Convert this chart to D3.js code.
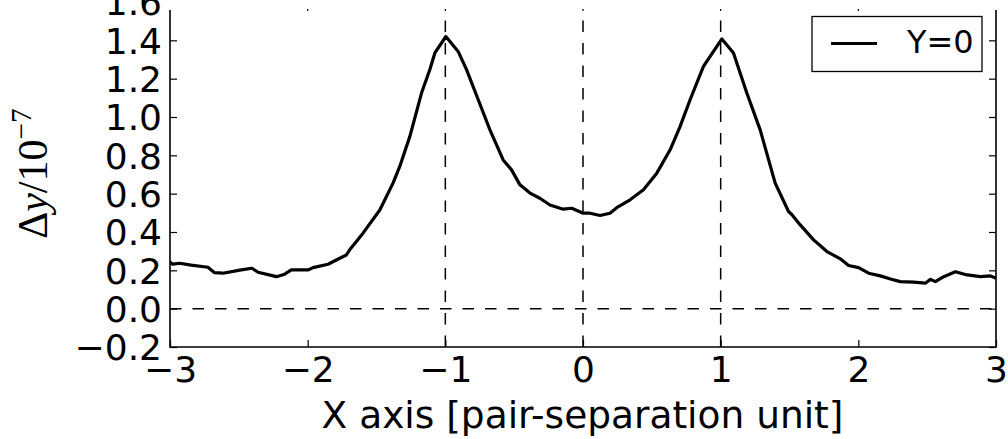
<!DOCTYPE html>
<html><head><meta charset="utf-8">
<script src="https://cdn.jsdelivr.net/npm/d3@7"></script>
<style>html,body{margin:0;padding:0;background:#fff;overflow:hidden}</style>
</head><body>
<svg id="c" width="1008" height="439"></svg>
<script>
const xValues = [-3.004,-2.98,-2.93,-2.846,-2.725,-2.676,-2.616,-2.482,-2.405,-2.36,-2.227,-2.167,-2.119,-1.998,-1.961,-1.852,-1.767,-1.719,-1.695,-1.646,-1.598,-1.476,-1.38,-1.331,-1.258,-1.173,-1.113,-1.076,-0.996,-0.907,-0.846,-0.761,-0.676,-0.58,-0.519,-0.458,-0.385,-0.313,-0.24,-0.143,-0.082,0.002,0.051,0.124,0.196,0.245,0.342,0.439,0.536,0.633,0.705,0.778,0.875,0.948,1.009,1.093,1.19,1.287,1.396,1.493,1.518,1.578,1.675,1.772,1.869,1.929,2.002,2.075,2.16,2.233,2.305,2.402,2.487,2.524,2.56,2.62,2.705,2.79,2.887,2.96,3.0];
const yValues = [0.245,0.232,0.237,0.227,0.216,0.188,0.185,0.202,0.211,0.19,0.167,0.18,0.202,0.202,0.214,0.232,0.263,0.28,0.307,0.35,0.394,0.515,0.655,0.742,0.898,1.125,1.247,1.334,1.42,1.342,1.247,1.09,0.933,0.776,0.724,0.646,0.603,0.576,0.541,0.519,0.524,0.498,0.498,0.486,0.498,0.527,0.568,0.62,0.707,0.829,0.95,1.09,1.264,1.342,1.407,1.334,1.125,0.933,0.655,0.507,0.49,0.437,0.359,0.298,0.26,0.225,0.214,0.185,0.171,0.155,0.141,0.138,0.133,0.153,0.141,0.167,0.193,0.176,0.167,0.171,0.159];
const xTicks = [-3,-2,-1,0,1,2,3];
const yTicks = [-0.2,0.0,0.2,0.4,0.6,0.8,1.0,1.2,1.4,1.6];
const vLines = [-1,0,1];
const hLines = [0];
const seriesName = "Y=0";

const svg = d3.select("#c");
const L = 170, R = 996, B = 347, T = 2, TOPVIS = 10;
const x = d3.scaleLinear().domain([-3,3]).range([L,R]);
const y = d3.scaleLinear().domain([-0.2,1.6]).range([B,T]);
const fmtY = v => (v < 0 ? "\u2212" : "") + Math.abs(v).toFixed(1);
const fmtX = v => (v < 0 ? "\u2212" : "") + Math.abs(v);
const FS = 36;

svg.append("defs").append("clipPath").attr("id","clip")
  .append("rect").attr("x",L).attr("y",TOPVIS).attr("width",R-L).attr("height",B-TOPVIS);

const plot = svg.append("g").attr("clip-path","url(#clip)");
plot.selectAll("line.v").data(vLines).join("line")
  .attr("x1",d=>x(d)).attr("x2",d=>x(d)).attr("y1",B).attr("y2",T)
  .attr("stroke","#000").attr("stroke-width",1.5).attr("stroke-dasharray","11.5,11");
plot.selectAll("line.h").data(hLines).join("line")
  .attr("x1",L).attr("x2",R).attr("y1",d=>y(d)).attr("y2",d=>y(d))
  .attr("stroke","#000").attr("stroke-width",1.5).attr("stroke-dasharray","11.5,11");
const pts = xValues.map((v,i)=>[v,yValues[i]]);
plot.append("path").datum(pts)
  .attr("d", d3.line().x(d=>x(d[0])).y(d=>y(d[1])))
  .attr("fill","none").attr("stroke","#000").attr("stroke-width",3.2).attr("stroke-linejoin","round");

const font = "'DejaVu Sans', sans-serif";
const gB = svg.append("g").attr("transform",`translate(0,${B})`)
  .call(d3.axisBottom(x).tickValues(xTicks).tickFormat(fmtX).tickSizeInner(-7).tickSizeOuter(0));
const gL = svg.append("g").attr("transform",`translate(${L},0)`)
  .call(d3.axisLeft(y).tickValues(yTicks).tickFormat(fmtY).tickSizeInner(-7).tickSizeOuter(0).tickPadding(8));
const gR = svg.append("g").attr("transform",`translate(${R},0)`)
  .call(d3.axisRight(y).tickValues(yTicks.filter(v=>y(v)>TOPVIS)).tickFormat("").tickSizeInner(-7).tickSizeOuter(0));
[gB,gL,gR].forEach(g=>{
  g.select(".domain").remove();
  g.selectAll("line").attr("stroke","#000").attr("stroke-width",1.2);
  g.selectAll("text").attr("font-family",font).attr("font-size",FS).attr("fill","#000");
});
gB.selectAll("text").attr("dy",null).attr("y",382-B);
gL.selectAll("text").attr("dy","0.36em");
gL.selectAll(".tick").filter(d=>y(d)<TOPVIS).select("line").remove();
svg.selectAll("line.tt").data(xTicks.slice(1,-1)).join("line")
  .attr("x1",d=>x(d)).attr("x2",d=>x(d)).attr("y1",TOPVIS-1).attr("y2",TOPVIS+1)
  .attr("stroke","#000").attr("stroke-width",1.2);
const sp = svg.append("g").attr("stroke","#000").attr("stroke-width",1.6).attr("fill","none");
sp.append("path").attr("d",`M${L},${TOPVIS}V${B}H${R}V${TOPVIS}`);

svg.append("text").attr("x",582.5).attr("y",428).attr("text-anchor","middle")
  .attr("font-family",font).attr("font-size",37.5).text("X axis [pair-separation unit]");
const yl = svg.append("text").attr("transform",`translate(47,173.5) rotate(-90)`)
  .attr("text-anchor","middle").attr("font-family","'Liberation Serif', serif").attr("font-size",42);
yl.append("tspan").text("\u0394");
yl.append("tspan").attr("font-style","italic").text("y");
yl.append("tspan").text("/10");
yl.append("tspan").attr("font-size",42*0.7).attr("dy",-16).text("\u22127");

const lg = svg.append("g");
lg.append("rect").attr("x",812).attr("y",16.5).attr("width",170).attr("height",55)
  .attr("fill","#fff").attr("stroke","#000").attr("stroke-width",1.3);
lg.append("line").attr("x1",831).attr("x2",877).attr("y1",43.5).attr("y2",43.5)
  .attr("stroke","#000").attr("stroke-width",3.2);
lg.append("text").attr("x",907).attr("y",53).attr("font-family",font).attr("font-size",32).text(seriesName);
</script>
</body></html>
